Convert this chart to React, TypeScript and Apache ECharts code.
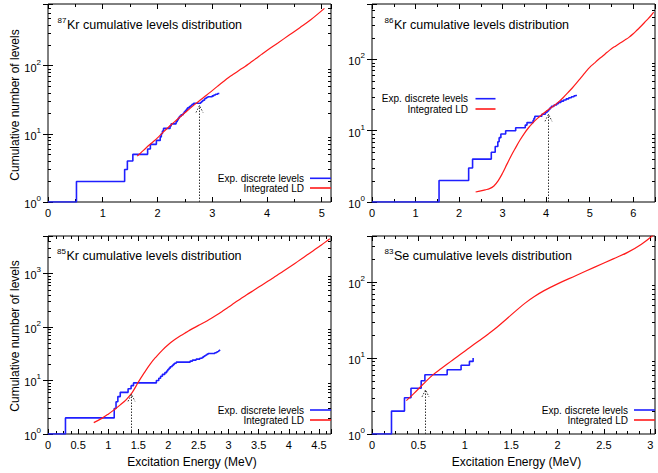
import React, { useEffect, useRef } from 'react';
import * as echarts from 'echarts';

const FONT = '"Liberation Sans", Arial, Helvetica, sans-serif';

// ---- texts ----
const massNumbers = ['87', '86', '85', '83'];
const symbols = ['Kr', 'Kr', 'Kr', 'Se'];
const titleTail = ' cumulative levels distribution';
const yAxisTitle = 'Cumulative number of levels';
const xAxisTitle = 'Excitation Energy (MeV)';
const legendExp = 'Exp. discrete levels';
const legendLD = 'Integrated LD';

// ---- axes ----
const xMaxs = [5.17, 6.5, 4.7, 3.05];
const xSteps = [1, 1, 0.5, 0.5];
const xMinorDivs = [2, 2, 4, 4];
const yMaxs = [800, 600, 5000, 400];

// ---- data: [energy MeV, cumulative number of levels] ----
const kr87Exp = [
  [0, 1], [0.52, 2], [1.40, 3], [1.45, 4], [1.55, 5], [1.82, 6], [1.87, 7], [1.98, 8],
  [2.05, 9], [2.07, 10], [2.09, 11], [2.11, 12], [2.23, 13], [2.25, 14], [2.34, 15],
  [2.36, 16], [2.38, 17], [2.40, 18], [2.43, 19], [2.47, 20], [2.49, 21], [2.51, 22],
  [2.53, 23], [2.55, 24], [2.58, 25], [2.61, 26], [2.63, 27], [2.66, 28], [2.79, 29],
  [2.81, 30], [2.83, 31], [2.86, 32], [2.87, 33], [2.89, 34], [2.92, 35], [3.00, 36],
  [3.03, 37], [3.06, 38], [3.10, 39], [3.13, 39],
];
const kr87LD = [
  [1.63, 4.7], [1.7, 5.3], [1.8, 6.3], [1.9, 7.4], [2.0, 8.7], [2.1, 10.5], [2.2, 12.5],
  [2.3, 14.7], [2.4, 17.3], [2.5, 20.3], [2.6, 23.8], [2.7, 27.7], [2.8, 32], [2.9, 37],
  [3.0, 43], [3.1, 50], [3.2, 58], [3.3, 67], [3.4, 76], [3.5, 86], [3.6, 97], [3.7, 111],
  [3.8, 127], [3.9, 146], [4.0, 167], [4.2, 215], [4.4, 278], [4.6, 360], [4.8, 470],
  [5.05, 690],
];
const kr86Exp = [
  [0, 1], [1.54, 2], [2.22, 3], [2.31, 4], [2.74, 5], [2.83, 6], [2.89, 7], [2.92, 8],
  [2.96, 9], [3.07, 10], [3.30, 11], [3.52, 12], [3.56, 13], [3.70, 14], [3.72, 15],
  [3.74, 16], [3.90, 17], [3.98, 18], [4.02, 19], [4.06, 20], [4.09, 21], [4.12, 22],
  [4.18, 23], [4.24, 24], [4.28, 25], [4.34, 26], [4.40, 27], [4.46, 28], [4.52, 29],
  [4.58, 30], [4.64, 31], [4.69, 32],
];
const kr86LD = [
  [2.38, 1.38], [2.5, 1.43], [2.6, 1.48], [2.7, 1.54], [2.8, 1.68], [2.9, 2.0], [3.0, 2.55],
  [3.1, 3.4], [3.2, 4.5], [3.3, 5.8], [3.4, 7.4], [3.5, 9.2], [3.6, 11.1], [3.7, 13.0],
  [3.8, 14.9], [3.9, 16.8], [4.0, 18.8], [4.1, 20.8], [4.2, 23.0], [4.3, 25.8], [4.4, 29.5],
  [4.5, 34.3], [4.6, 39.8], [4.7, 46.8], [4.8, 55.6], [4.9, 66], [5.0, 77.6], [5.1, 88],
  [5.2, 100], [5.3, 112], [5.4, 126], [5.5, 141], [5.6, 155], [5.7, 170], [5.8, 186],
  [5.9, 204], [6.0, 229], [6.1, 263], [6.2, 302], [6.3, 351], [6.4, 407], [6.47, 460],
];
const kr85Exp = [
  [0, 1], [0.29, 2], [1.10, 3], [1.13, 4], [1.16, 5], [1.20, 6], [1.33, 7], [1.38, 8],
  [1.42, 9], [1.80, 10], [1.84, 11], [1.87, 12], [1.90, 13], [1.94, 14], [1.97, 15],
  [1.99, 16], [2.01, 17], [2.03, 18], [2.06, 19], [2.08, 20], [2.10, 21], [2.13, 22],
  [2.36, 23], [2.40, 24], [2.46, 25], [2.52, 26], [2.56, 27], [2.58, 28], [2.60, 29],
  [2.62, 30], [2.64, 31], [2.66, 32], [2.77, 33], [2.79, 34], [2.81, 35], [2.83, 36],
  [2.84, 37], [2.86, 38],
];
const kr85LD = [
  [0.76, 1.63], [0.9, 1.98], [1.0, 2.35], [1.1, 2.85], [1.2, 3.5], [1.3, 4.4], [1.4, 6.0],
  [1.5, 9.3], [1.6, 14], [1.7, 20.5], [1.8, 28], [1.9, 37], [2.0, 47], [2.1, 57.5],
  [2.2, 68.5], [2.3, 80], [2.4, 93], [2.5, 107], [2.6, 122], [2.7, 142], [2.8, 167],
  [2.9, 198], [3.0, 236], [3.1, 282], [3.2, 335], [3.3, 398], [3.4, 470], [3.5, 555],
  [3.6, 655], [3.7, 773], [3.8, 912], [3.9, 1084], [4.0, 1288], [4.1, 1535], [4.2, 1836],
  [4.3, 2200], [4.4, 2630], [4.5, 3160], [4.6, 3800], [4.68, 4450],
];
const se83Exp = [
  [0, 1], [0.21, 2], [0.35, 3], [0.42, 4], [0.53, 5], [0.57, 6], [0.81, 7], [0.96, 8],
  [1.05, 9], [1.09, 10],
];
const se83LD = [
  [0.37, 2.75], [0.45, 3.4], [0.55, 4.5], [0.65, 5.9], [0.75, 7.3], [0.85, 9.0],
  [0.95, 11.1], [1.05, 13.6], [1.15, 16.7], [1.25, 20.5], [1.35, 25.5], [1.45, 32.5],
  [1.55, 41.5], [1.65, 52.5], [1.75, 64], [1.85, 76], [2.0, 94], [2.2, 121], [2.4, 156],
  [2.6, 200], [2.75, 242], [2.9, 310], [3.03, 410],
];
// matching-point arrows: [energy, arrow tip level]
const arrowTips = [[2.76, 26], [4.04, 17], [1.385, 5.5], [0.574, 3.8]];

const expSets = [kr87Exp, kr86Exp, kr85Exp, se83Exp];
const ldSets = [kr87LD, kr86LD, kr85LD, se83LD];

// ---- layout ----
const GRIDS = [
  { left: 48, top: 4, width: 283, height: 198 },
  { left: 372, top: 4, width: 285, height: 198 },
  { left: 48, top: 236, width: 283, height: 198 },
  { left: 372, top: 236, width: 285, height: 198 },
];
const TITLE_POS = [
  { supR: 66.5, x: 67, supY: 20.3, y: 24.5 },
  { supR: 393.5, x: 394, supY: 20.3, y: 24.5 },
  { supR: 66, x: 66.5, supY: 251, y: 256 },
  { supR: 393.5, x: 394, supY: 251.5, y: 256 },
];
const LEGEND_POS = [
  { tr: 304, x1: 310, x2: 331, y1: 178.3, y2: 188 },
  { tr: 468, x1: 475.5, x2: 495.5, y1: 98.7, y2: 109 },
  { tr: 304, x1: 310, x2: 331, y1: 410, y2: 420 },
  { tr: 628, x1: 634, x2: 655, y1: 410, y2: 420 },
];

const BLUE = '#1f1fff';
const RED = '#ff1a1a';

function minorLogValues(max: number) {
  const out: number[] = [];
  for (let d = 1; d < max; d *= 10) {
    for (let m = 2; m <= 9; m++) if (m * d < max) out.push(m * d);
  }
  return out;
}
function minorLinValues(max: number, step: number, divs: number) {
  const out: number[] = [];
  const m = step / divs;
  for (let k = 1; k * m < max - 1e-9; k++) {
    if (k % divs !== 0) out.push(+(k * m).toFixed(6));
  }
  return out;
}

function buildOption() {
  const grid: any[] = [];
  const xAxis: any[] = [];
  const yAxis: any[] = [];
  const series: any[] = [];
  const graphic: any[] = [];

  for (let i = 0; i < 4; i++) {
    const g = GRIDS[i];
    grid.push({ ...g, show: true, borderColor: '#000', borderWidth: 1, backgroundColor: 'transparent' });
    const step = xSteps[i];
    const xBase = {
      type: 'value', gridIndex: i, min: 0, max: xMaxs[i], interval: step,
      axisLine: { show: false },
      axisTick: { show: true, inside: true, length: 5, lineStyle: { color: '#000', width: 1 } },
      splitLine: { show: false },
    };
    xAxis.push({
      ...xBase, position: 'bottom',
      axisLabel: {
        show: true, fontSize: 11, fontFamily: FONT, color: '#000', margin: 5,
        formatter: (v: number) => {
          const q = v / step;
          return Math.abs(q - Math.round(q)) < 1e-6 ? String(+v.toFixed(2)) : '';
        },
      },
    });
    xAxis.push({ ...xBase, position: 'top', axisLabel: { show: false } });

    const yBase = {
      type: 'log', logBase: 10, gridIndex: i, min: 1, max: yMaxs[i],
      axisLine: { show: false },
      axisTick: { show: true, inside: true, length: 5, lineStyle: { color: '#000', width: 1 } },
      splitLine: { show: false },
    };
    yAxis.push({
      ...yBase, position: 'left',
      axisLabel: {
        show: true, margin: 7, fontFamily: FONT, color: '#000',
        formatter: (v: number) => {
          const e = Math.log10(v);
          const r = Math.round(e);
          if (Math.abs(e - r) > 1e-6) return '';
          return `{b|10}{s|${r}}`;
        },
        rich: {
          b: { fontSize: 11, fontFamily: FONT, color: '#000', lineHeight: 15, verticalAlign: 'bottom' },
          s: { fontSize: 8, fontFamily: FONT, color: '#000', lineHeight: 8, verticalAlign: 'top' },
        },
      },
    });
    yAxis.push({ ...yBase, position: 'right', axisLabel: { show: false } });

    const xi = 2 * i;
    const yi = 2 * i;

    // minor ticks y (log)
    series.push({
      type: 'custom', xAxisIndex: xi, yAxisIndex: yi, silent: true, z: 1,
      data: minorLogValues(yMaxs[i]).map((v) => [0, v]),
      renderItem: (params: any, api: any) => {
        const cs = params.coordSys;
        const y = Math.round(api.coord([0, api.value(1)])[1]) + 0.5;
        const st = { stroke: '#000', lineWidth: 1 };
        return {
          type: 'group', children: [
            { type: 'line', shape: { x1: cs.x, y1: y, x2: cs.x + 3, y2: y }, style: st },
            { type: 'line', shape: { x1: cs.x + cs.width - 3, y1: y, x2: cs.x + cs.width, y2: y }, style: st },
          ],
        };
      },
    });
    // minor ticks x
    series.push({
      type: 'custom', xAxisIndex: xi, yAxisIndex: yi, silent: true, z: 1,
      data: minorLinValues(xMaxs[i], step, xMinorDivs[i]).map((v) => [v, 1]),
      renderItem: (params: any, api: any) => {
        const cs = params.coordSys;
        const x = Math.round(api.coord([api.value(0), 1])[0]) + 0.5;
        const st = { stroke: '#000', lineWidth: 1 };
        return {
          type: 'group', children: [
            { type: 'line', shape: { x1: x, y1: cs.y + cs.height, x2: x, y2: cs.y + cs.height - 3 }, style: st },
            { type: 'line', shape: { x1: x, y1: cs.y, x2: x, y2: cs.y + 3 }, style: st },
          ],
        };
      },
    });
    // experimental step
    series.push({
      type: 'line', name: legendExp, xAxisIndex: xi, yAxisIndex: yi, step: 'end',
      showSymbol: false, symbol: 'none', data: expSets[i],
      lineStyle: { color: BLUE, width: 1.6 }, z: 3,
    });
    // integrated LD
    series.push({
      type: 'line', name: legendLD, xAxisIndex: xi, yAxisIndex: yi, smooth: 0.4,
      showSymbol: false, symbol: 'none', data: ldSets[i],
      lineStyle: { color: RED, width: 1.2 }, z: 4,
    });
    // arrow
    series.push({
      type: 'custom', xAxisIndex: xi, yAxisIndex: yi, silent: true, z: 5,
      data: [arrowTips[i]],
      renderItem: (params: any, api: any) => {
        const x = api.value(0);
        const p0 = api.coord([x, 1]);
        const p1 = api.coord([x, api.value(1)]);
        const px = Math.round(p0[0]) + 0.5;
        const st = { stroke: '#333', lineWidth: 1, lineDash: [1.5, 1.5], fill: null };
        return {
          type: 'group', children: [
            { type: 'line', shape: { x1: px, y1: p0[1], x2: px, y2: p1[1] }, style: st },
            { type: 'polyline', shape: { points: [[px - 3.5, p1[1] + 7], [px, p1[1]], [px + 3.5, p1[1] + 7]] }, style: st },
          ],
        };
      },
    });

    // title
    const tp = TITLE_POS[i];
    graphic.push({
      type: 'text', x: tp.supR, y: tp.supY, silent: true,
      style: { text: massNumbers[i], fontSize: 8, fontFamily: FONT, fill: '#000', align: 'right', verticalAlign: 'middle', textAlign: 'right', textVerticalAlign: 'middle' },
    });
    graphic.push({
      type: 'text', x: tp.x, y: tp.y, silent: true,
      style: { text: symbols[i] + titleTail, fontSize: 12.5, fontFamily: FONT, fill: '#000', align: 'left', verticalAlign: 'middle', textAlign: 'left', textVerticalAlign: 'middle' },
    });
    // legend
    const lp = LEGEND_POS[i];
    graphic.push({
      type: 'text', x: lp.tr, y: lp.y1, silent: true,
      style: { text: legendExp, fontSize: 10, fontFamily: FONT, fill: '#000', align: 'right', verticalAlign: 'middle', textAlign: 'right', textVerticalAlign: 'middle' },
    });
    graphic.push({
      type: 'text', x: lp.tr, y: lp.y2, silent: true,
      style: { text: legendLD, fontSize: 10, fontFamily: FONT, fill: '#000', align: 'right', verticalAlign: 'middle', textAlign: 'right', textVerticalAlign: 'middle' },
    });
    graphic.push({
      type: 'line', silent: true, shape: { x1: lp.x1, y1: lp.y1, x2: lp.x2, y2: lp.y1 },
      style: { stroke: BLUE, lineWidth: 1.6 },
    });
    graphic.push({
      type: 'line', silent: true, shape: { x1: lp.x1, y1: lp.y2, x2: lp.x2, y2: lp.y2 },
      style: { stroke: RED, lineWidth: 1.6 },
    });
  }

  // axis titles
  const yNamePos = [[15, 105], [15, 336]];
  yNamePos.forEach(([x, y]) => {
    graphic.push({
      type: 'text', x, y, rotation: Math.PI / 2, silent: true,
      style: { text: yAxisTitle, fontSize: 12, fontFamily: FONT, fill: '#000', align: 'center', verticalAlign: 'middle', textAlign: 'center', textVerticalAlign: 'middle' },
    });
  });
  const xNamePos = [[192, 462], [516.5, 462]];
  xNamePos.forEach(([x, y]) => {
    graphic.push({
      type: 'text', x, y, silent: true,
      style: { text: xAxisTitle, fontSize: 12, fontFamily: FONT, fill: '#000', align: 'center', verticalAlign: 'middle', textAlign: 'center', textVerticalAlign: 'middle' },
    });
  });

  return {
    animation: false,
    backgroundColor: '#ffffff',
    textStyle: { fontFamily: FONT },
    grid, xAxis, yAxis, series, graphic,
  };
}

export default function App() {
  const ref = useRef<HTMLDivElement | null>(null);
  useEffect(() => {
    if (!ref.current) return;
    const chart = echarts.init(ref.current, undefined, { renderer: 'svg' });
    chart.setOption(buildOption() as any);
    return () => chart.dispose();
  }, []);
  return (
    <div
      ref={ref}
      style={{ position: 'absolute', left: 0, top: 0, width: 658, height: 473, background: '#fff' }}
    />
  );
}
